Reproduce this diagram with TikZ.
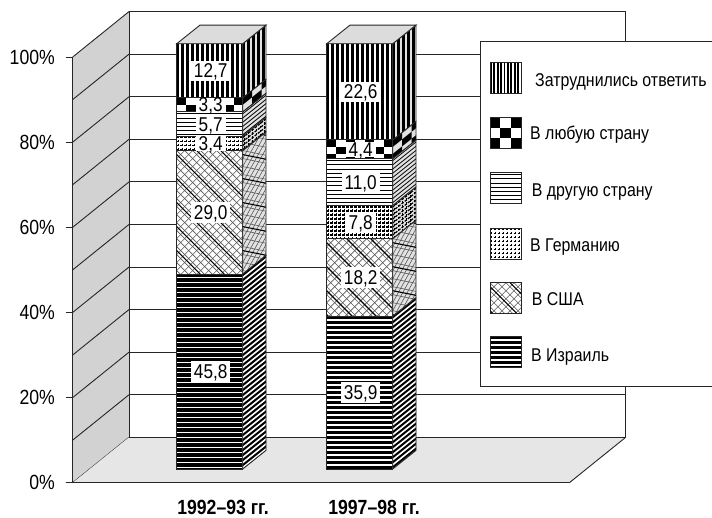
\documentclass[tikz,border=0pt]{standalone}
\usepackage{fontspec}
\setmainfont{Liberation Sans}[FakeStretch=0.86]
\definecolor{wallgray}{HTML}{D2D2D2}
\definecolor{floorgray}{HTML}{E6E6E7}
\definecolor{topgray}{HTML}{DCDCDC}
\definecolor{sidegray}{HTML}{E2E2E2}
\definecolor{ink}{HTML}{262626}
\newcommand\ckw{9.5}
\newcommand\ckh{7}
\newcommand\vsp{5}
\newcommand\vsw{2.6pt}
\newcommand\fax{\fontsize{20.5}{24}\selectfont}
\newcommand\fnum{\fontsize{20}{24}\selectfont}
\newcommand\fleg{\fontsize{18.5}{22}\selectfont}
% patterns, local coordinates: u to the right, v downwards, region [0,W]x[0,H]
\newcommand\PVS[2]{\foreach \k in {0,...,25}{\draw[line width=\vsw] ({\k*\vsp+0.8},-2) -- ({\k*\vsp+0.8},{#2+2});}}
\newcommand\PCK[2]{\foreach \rr in {0,...,4}{\foreach \cc in {0,...,7}{\pgfmathparse{int(mod(\rr+\cc,2))}\ifnum\pgfmathresult=0 \fill ({\cc*\ckw},{\rr*\ckh}) -- ++(\ckw,0) -- ++(0,\ckh) -- ++(-\ckw,0) -- cycle;\fi}}}
\newcommand\PHL[2]{\foreach \k in {0,...,16}{\draw[line width=0.8pt] (-5,{2+\k*4.2}) -- ({#1+5},{2+\k*4.2});}}
\newcommand\PGR[2]{\foreach \k in {0,...,18}{\draw[gdash] (-0.5,{1.5+\k*4}) -- ({#1+1},{1.5+\k*4}); \draw[gdash] ({1.5+\k*4},-0.5) -- ({1.5+\k*4},{#2+1});}}
\newcommand\PUS[2]{\foreach \k in {0,...,50}{\draw[uthin] ({-200+\k*8},0) -- ++(250,250); \draw[uthin] ({-200+\k*8},0) -- ++(-250,250);}\foreach \k in {0,...,17}{\draw[line width=1.1pt] ({-196+\k*24},0) -- ++(250,250);}}
\newcommand\PIS[2]{\fill (-5,-5) -- ({#1+5},-5) -- ({#1+5},{#2+5}) -- (-5,{#2+5}) -- cycle; \foreach \k in {0,...,42}{\draw[white,line width=1.6pt] (-5,{3.6+\k*5}) -- ({#1+5},{3.6+\k*5});}}
\newcommand\Face[4]{%
 \begin{scope}
  \clip (0,0) -- (#2,0) -- (#2,#3) -- (0,#3) -- cycle;
  \fill[#4] (-1,-1) -- ({#2+1},-1) -- ({#2+1},{#3+1}) -- (-1,{#3+1}) -- cycle;
  #1{#2}{#3}
 \end{scope}
 \draw[frame] (0,0) -- (#2,0) -- (#2,#3) -- (0,#3) -- cycle;}
\newcommand\Seg[4]{%
 \pgfmathsetmacro\syt{469-4.257*#3}%
 \pgfmathsetmacro\shh{4.257*(#3-#2)}%
 \begin{scope}[shift={(#1,\syt)}]\Face{#4}{66}{\shh}{white}\end{scope}
 \begin{scope}[shift={(#1+66,\syt)},cm={1,0.8,0,1,(0,0)}]\Face{#4}{23.3}{\shh}{sidegray}\end{scope}}
\newcommand\BarTop[2]{%
 \pgfmathsetmacro\syt{469-4.257*#2}%
 \filldraw[fill=topgray,frame] (#1,\syt) -- (#1+66,\syt) -- (#1+89.3,\syt-18.6) -- (#1+23.3,\syt-18.6) -- cycle;}
\tikzset{
 frame/.style={draw=ink,line width=0.9pt,line join=miter},
 gdash/.style={line width=1.2pt,dash pattern=on 2.6pt off 1.4pt},
 uthin/.style={line width=0.6pt,black!65},
 grid/.style={draw=ink,line width=0.9pt},
 numlab/.style={fill=white,inner xsep=3pt,inner ysep=0pt,text height=14.3pt,text depth=0pt,minimum height=20.5pt,font=\fnum},
 smalllab/.style={numlab,minimum height=14.5pt},
 axlab/.style={anchor=east,inner sep=0pt,font=\fax},
 catlab/.style={anchor=base,inner sep=0pt,font=\fax\bfseries},
 leglab/.style={anchor=base west,inner sep=0pt,font=\fleg},
}
\begin{document}
\begin{tikzpicture}[x=1pt,y=-1pt]
\useasboundingbox (0,0) rectangle (712,518);
% left wall
\fill[wallgray] (72.7,482.7) -- (72.7,57) -- (129,11.6) -- (129,437.3) -- cycle;
\foreach \p in {0,10,...,100}{\draw[grid] (72.7,{482.7-4.257*\p}) -- (129,{437.3-4.257*\p});}
% floor
\fill[floorgray] (72.7,482.7) -- (129,437.3) -- (625.7,437.3) -- (569.4,482.7) -- cycle;
\draw[grid] (625.7,437.3) -- (569.4,482.7);
\draw[grid] (65.7,482.7) -- (569.4,482.7);
% back wall
\draw[grid] (129,11.6) rectangle (625.7,437.3);
\foreach \p in {10,20,...,90}{\draw[grid] (129,{437.3-4.257*\p}) -- (625.7,{437.3-4.257*\p});}
% axis
\draw[grid] (72.7,57) -- (72.7,482.7);
\foreach \p in {0,20,...,100}{\draw[grid] (65.7,{482.7-4.257*\p}) -- (72.7,{482.7-4.257*\p});
  \node[axlab] (ax\p) at (55,{482.7-4.257*\p}) {\p\%};}
% legend
\filldraw[fill=white,frame] (480.7,41) rectangle (724,386.7);
\begin{scope}[shift={(490,62.3)}]\renewcommand\vsp{3.4}\renewcommand\vsw{1.8pt}\Face{\PVS}{31}{31}{white}\end{scope}
\begin{scope}[shift={(490,117.3)}]\renewcommand\ckw{10.34}\renewcommand\ckh{10.34}\Face{\PCK}{31}{31}{white}\end{scope}
\begin{scope}[shift={(490,172.7)}]\Face{\PHL}{31}{31}{white}\end{scope}
\begin{scope}[shift={(490,228.3)}]\Face{\PGR}{31}{31}{white}\end{scope}
\begin{scope}[shift={(490,282.7)}]\Face{\PUS}{31}{31}{white}\end{scope}
\begin{scope}[shift={(490,336.7)}]\Face{\PIS}{31}{31}{white}\end{scope}
\node[leglab] (l1) at (535,86.5) {Затруднились ответить};
\node[leglab] (l2) at (530,140) {В любую страну};
\node[leglab] (l3) at (531.7,196.5) {В другую страну};
\node[leglab] (l4) at (530,251.5) {В Германию};
\node[leglab] (l5) at (531.7,306) {В США};
\node[leglab] (l6) at (531,362) {В Израиль};
% bar 1
\Seg{176.7}{0}{45.8}{\PIS}
\Seg{176.7}{45.8}{74.8}{\PUS}
\Seg{176.7}{74.8}{78.2}{\PGR}
\Seg{176.7}{78.2}{83.9}{\PHL}
\Seg{176.7}{83.9}{87.2}{\PCK}
\Seg{176.7}{87.2}{99.9}{\PVS}
\BarTop{176.7}{99.9}
% bar 2
\Seg{326.7}{0}{35.9}{\PIS}
\Seg{326.7}{35.9}{54.1}{\PUS}
\Seg{326.7}{54.1}{61.9}{\PGR}
\Seg{326.7}{61.9}{72.9}{\PHL}
\Seg{326.7}{72.9}{77.3}{\PCK}
\Seg{326.7}{77.3}{99.9}{\PVS}
\BarTop{326.7}{99.9}
% value labels
\node[numlab] (a1) at (210.7,371.5) {45,8};
\node[numlab] (a2) at (210.7,212.3) {29,0};
\node[smalllab] (a3) at (210.7,143.3) {3,4};
\node[numlab] (a4) at (210.7,124.0) {5,7};
\node[smalllab] (a5) at (210.7,104.8) {3,3};
\node[numlab] (a6) at (210.7,70.8) {12,7};
\node[numlab] (b1) at (360.7,392.6) {35,9};
\node[numlab] (b2) at (360.7,277.4) {18,2};
\node[numlab] (b3) at (360.7,222.1) {7,8};
\node[numlab] (b4) at (360.7,182.1) {11,0};
\node[smalllab] (b5) at (360.7,149.3) {4,4};
\node[numlab] (b6) at (360.7,91.8) {22,6};
% categories
\node[catlab] (c1) at (223,514.8) {1992–93 гг.};
\node[catlab] (c2) at (374,514.8) {1997–98 гг.};
\end{tikzpicture}
\end{document}
